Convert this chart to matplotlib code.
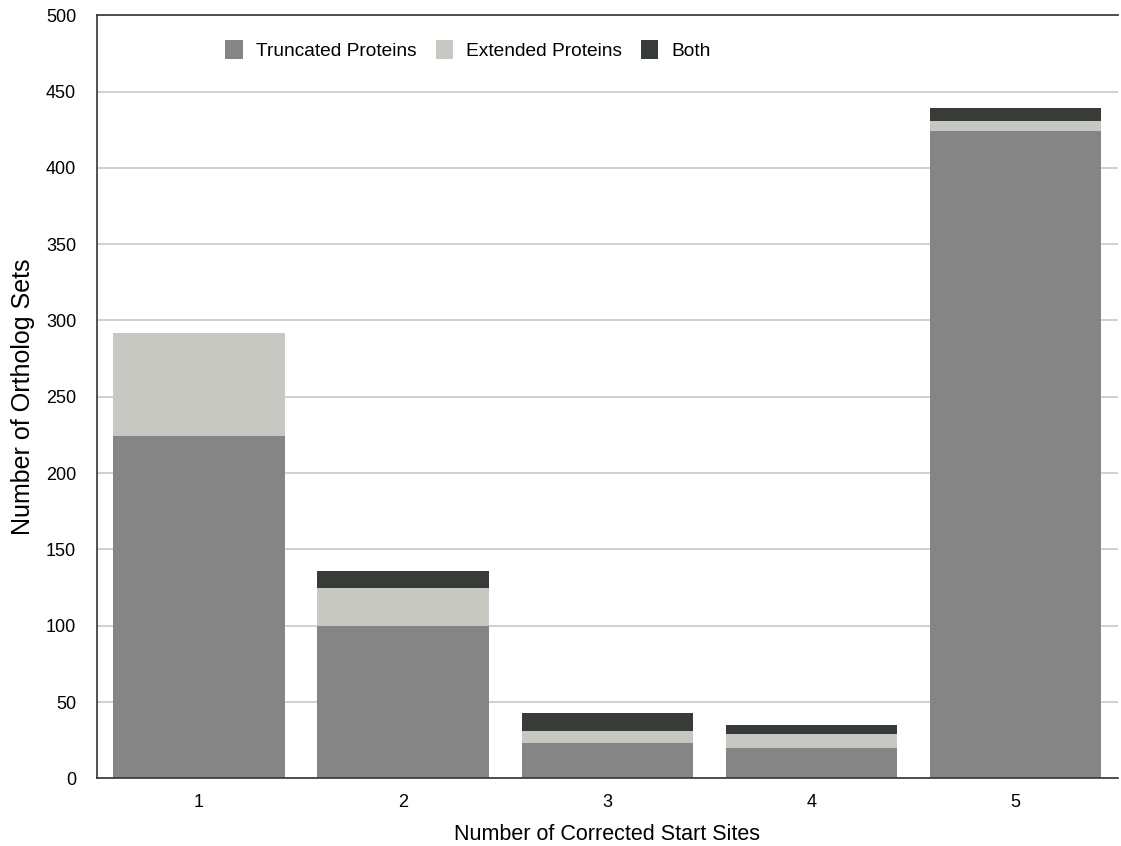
import matplotlib.pyplot as plt
import numpy as np

plt.rcParams['font.family'] = ['Liberation Sans', 'DejaVu Sans']

# Data
start_sites = ['1', '2', '3', '4', '5']
truncated = [224, 100, 23, 20, 424]
extended = [68, 25, 8, 9, 7]
both = [0, 11, 12, 6, 8]

def plot_start_sites():
    fig = plt.figure(figsize=(11.21, 8.46), dpi=100)
    ax = fig.add_axes([0.0865, 0.080, 0.9105, 0.902])

    x = np.arange(1, len(start_sites) + 1)
    w = 0.84
    trunc = np.array(truncated)
    ext = np.array(extended)

    ax.bar(x, trunc, w, color='#858585', label='Truncated Proteins', zorder=2)
    ax.bar(x, ext, w, bottom=trunc, color='#c8c8c3', label='Extended Proteins', zorder=2)
    ax.bar(x, both, w, bottom=trunc + ext, color='#383c38', label='Both', zorder=2)

    ax.set_xlim(0.5, 5.5)
    ax.set_ylim(0, 500)
    ax.set_yticks(range(0, 501, 50))
    ax.set_xticks(x)
    ax.set_xticklabels(start_sites)
    ax.yaxis.grid(True, color='#c8c8c8', linewidth=1.2, zorder=0)
    ax.set_axisbelow(True)
    ax.tick_params(axis='both', length=0, labelsize=13)
    ax.tick_params(axis='x', pad=11)
    ax.tick_params(axis='y', pad=15)

    for side in ['left', 'top', 'bottom']:
        ax.spines[side].set_color('#333333')
        ax.spines[side].set_linewidth(1.2)
    ax.spines['right'].set_visible(False)

    ax.set_xlabel('Number of Corrected Start Sites', fontsize=15.5, labelpad=10)
    ax.set_ylabel('Number of Ortholog Sets', fontsize=18, labelpad=8)

    ax.legend(loc='upper left', bbox_to_anchor=(0.109, 0.99), ncol=3,
              frameon=False, fontsize=13.8, handlelength=0.9, handleheight=1.15,
              columnspacing=1.0, handletextpad=0.68)

    fig.savefig('out.png', dpi=100)

if __name__ == "__main__":
    plot_start_sites()
